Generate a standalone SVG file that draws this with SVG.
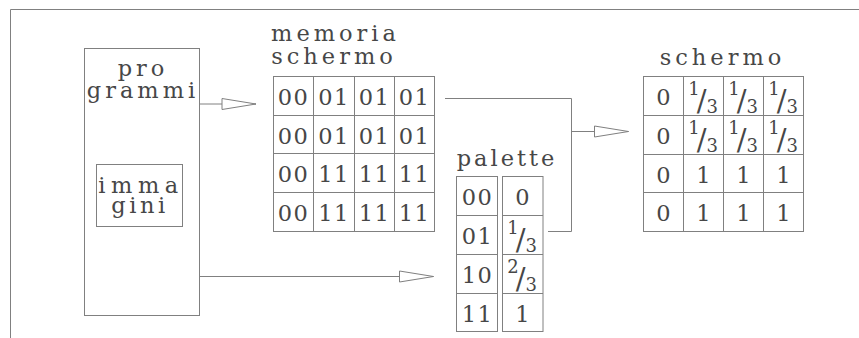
<svg xmlns="http://www.w3.org/2000/svg" width="859" height="338" viewBox="0 0 859 338">
  <style>
    .ln { fill: none; stroke: #808080; stroke-width: 1; }
    .t { font-family: "DejaVu Serif", "Liberation Serif", serif; font-size: 22.5px; fill: #474747; text-anchor: middle; }
    .ls { letter-spacing: 4px; }
    .ld { letter-spacing: 1.5px; }
    .sm { font-size: 18px; }
    .sl { font-size: 29px; }
  </style>
  <defs>
    <marker id="ah" markerUnits="userSpaceOnUse" markerWidth="36" markerHeight="13" refX="34.5" refY="6" orient="auto" overflow="visible">
      <path d="M0.5,0.5 L34.5,6 L0.5,11.5 Z" fill="#fff" stroke="#808080" stroke-width="1"/>
    </marker>
  </defs>

  <rect width="859" height="338" fill="#fff"/>

  <!-- outer frame -->
  <path class="ln" d="M10.5,338 V9.5 H859"/>

  <!-- programs block (letter-spaced labels: x shifted by half the spacing) -->
  <g id="node-programmi">
    <rect class="ln" x="84.5" y="48.5" width="115" height="267"/>
    <text class="t ls"><tspan x="143" y="76">pro</tspan><tspan x="143" y="98">grammi</tspan></text>
  </g>

  <!-- images inside programs -->
  <g id="node-immagini">
    <rect class="ln" x="96.5" y="164.5" width="86" height="62"/>
    <text class="t"><tspan x="141" y="193" style="letter-spacing:5.5px">imma</tspan><tspan x="140" y="213" style="letter-spacing:3.5px">gini</tspan></text>
  </g>

  <!-- screen memory: 4x4 grid of 2-bit codes -->
  <g id="node-memoria">
    <text class="t ls"><tspan x="335.5" y="41">memoria</tspan><tspan x="334" y="63.5">schermo</tspan></text>
    <rect class="ln" x="273.5" y="76.5" width="161" height="155"/>
    <path class="ln" d="M313.5,76.5 V231.5 M354.5,76.5 V231.5 M394.5,76.5 V231.5 M273.5,115.5 H434.5 M273.5,153.5 H434.5 M273.5,192.5 H434.5"/>
    <g class="t ld">
      <text x="293.5" y="105">00</text>
      <text x="334" y="105">01</text>
      <text x="374.5" y="105">01</text>
      <text x="414.5" y="105">01</text>
      <text x="293.5" y="144">00</text>
      <text x="334" y="144">01</text>
      <text x="374.5" y="144">01</text>
      <text x="414.5" y="144">01</text>
      <text x="293.5" y="182">00</text>
      <text x="334" y="182">11</text>
      <text x="374.5" y="182">11</text>
      <text x="414.5" y="182">11</text>
      <text x="293.5" y="221">00</text>
      <text x="334" y="221">11</text>
      <text x="374.5" y="221">11</text>
      <text x="414.5" y="221">11</text>
    </g>
  </g>

  <!-- palette: code -> intensity; fractions set as raised numerator, large slash, lowered denominator -->
  <g id="node-palette">
    <text class="t" x="507" y="166" style="letter-spacing:3px">palette</text>
    <rect class="ln" x="456.5" y="176.5" width="41" height="155"/>
    <path class="ln" d="M456.5,215.5 H497.5 M456.5,254.5 H497.5 M456.5,293.5 H497.5"/>
    <rect class="ln" x="502.5" y="176.5" width="40.5" height="155"/>
    <path class="ln" d="M502.5,215.5 H543 M502.5,254.5 H543 M502.5,293.5 H543"/>
    <g class="t">
      <text class="ld" x="477.5" y="205">00</text>
      <text class="ld" x="477.5" y="244">01</text>
      <text class="ld" x="477.5" y="283">10</text>
      <text class="ld" x="477.5" y="322">11</text>
      <text x="522.5" y="205">0</text>
      <text x="522.1" y="234"><tspan class="sm">1</tspan><tspan class="sl" dx="-3" dy="15.5">/</tspan><tspan class="sm" dy="2">3</tspan></text>
      <text x="522.1" y="273"><tspan class="sm">2</tspan><tspan class="sl" dx="-3" dy="15.5">/</tspan><tspan class="sm" dy="2">3</tspan></text>
      <text x="522.5" y="322">1</text>
    </g>
  </g>

  <!-- screen: 4x4 grid of intensities -->
  <g id="node-schermo">
    <text class="t ls" x="722.5" y="65">schermo</text>
    <rect class="ln" x="643.5" y="76.5" width="160" height="155"/>
    <path class="ln" d="M683.5,76.5 V231.5 M723.5,76.5 V231.5 M763.5,76.5 V231.5 M643.5,115.5 H803.5 M643.5,154.5 H803.5 M643.5,192.5 H803.5"/>
    <g class="t">
      <text x="663.5" y="105">0</text>
      <text x="703.1" y="95"><tspan class="sm">1</tspan><tspan class="sl" dx="-3" dy="15.5">/</tspan><tspan class="sm" dy="2">3</tspan></text>
      <text x="743.1" y="95"><tspan class="sm">1</tspan><tspan class="sl" dx="-3" dy="15.5">/</tspan><tspan class="sm" dy="2">3</tspan></text>
      <text x="783.1" y="95"><tspan class="sm">1</tspan><tspan class="sl" dx="-3" dy="15.5">/</tspan><tspan class="sm" dy="2">3</tspan></text>

      <text x="663.5" y="144">0</text>
      <text x="703.1" y="134"><tspan class="sm">1</tspan><tspan class="sl" dx="-3" dy="15.5">/</tspan><tspan class="sm" dy="2">3</tspan></text>
      <text x="743.1" y="134"><tspan class="sm">1</tspan><tspan class="sl" dx="-3" dy="15.5">/</tspan><tspan class="sm" dy="2">3</tspan></text>
      <text x="783.1" y="134"><tspan class="sm">1</tspan><tspan class="sl" dx="-3" dy="15.5">/</tspan><tspan class="sm" dy="2">3</tspan></text>

      <text x="663.5" y="183">0</text>
      <text x="703.5" y="183">1</text>
      <text x="743.5" y="183">1</text>
      <text x="783.5" y="183">1</text>

      <text x="663.5" y="221">0</text>
      <text x="703.5" y="221">1</text>
      <text x="743.5" y="221">1</text>
      <text x="783.5" y="221">1</text>
    </g>
  </g>

  <!-- connectors -->
  <g id="connectors">
    <path class="ln" d="M199.5,104 H256" marker-end="url(#ah)"/>
    <path class="ln" d="M199.5,276.5 H433.5" marker-end="url(#ah)"/>
    <path class="ln" d="M445,98.5 H571.5 V231.5 H548"/>
    <path class="ln" d="M571.5,131.5 H628.5" marker-end="url(#ah)"/>
  </g>
</svg>
